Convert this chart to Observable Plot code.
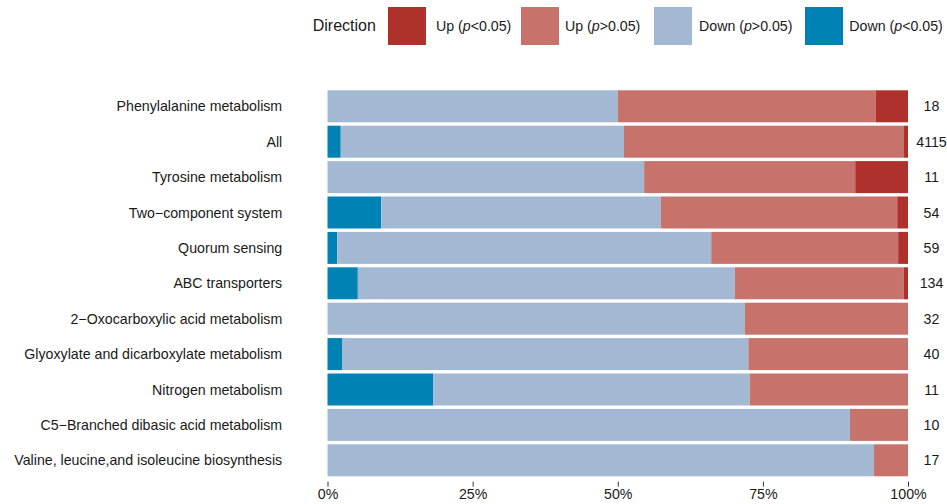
<!DOCTYPE html>
<html>
<head>
<meta charset="utf-8">
<script src="https://cdn.jsdelivr.net/npm/d3@7"></script>
<script src="https://cdn.jsdelivr.net/npm/@observablehq/plot@0.6"></script>
<style>
  body { margin: 0; background: #fff; font-family: "Liberation Sans", Arial, sans-serif; }
  #chart { position: relative; width: 947px; height: 504px; overflow: hidden; background: #fff; }
  #legend { position: absolute; left: 0; top: 0; width: 947px; height: 60px; color: #1a1a1a; }
  #legend .title { position: absolute; top: 25.5px; transform: translateY(-50%); font-size: 16px; white-space: nowrap; }
  #legend .key { position: absolute; top: 6.7px; width: 38px; height: 38px; }
  #legend .lab { position: absolute; top: 25.5px; transform: translateY(-50%); font-size: 14.2px; white-space: nowrap; }
  #chart svg { position: absolute; left: 0; top: 60px; }
</style>
</head>
<body>
<div id="chart"><div id="legend"></div></div>
<script>
// Pathways, top to bottom
const pathways = [
  "Phenylalanine metabolism",
  "All",
  "Tyrosine metabolism",
  "Two\u2212component system",
  "Quorum sensing",
  "ABC transporters",
  "2\u2212Oxocarboxylic acid metabolism",
  "Glyoxylate and dicarboxylate metabolism",
  "Nitrogen metabolism",
  "C5\u2212Branched dibasic acid metabolism",
  "Valine, leucine,and isoleucine biosynthesis"
];

// Gene counts per pathway and direction
const downSig    = [0,   94, 0,  5,  1,  7,  0,  1, 2, 0,  0];
const downNonSig = [9, 2008, 6, 26, 38, 87, 23, 28, 6, 9, 16];
const upNonSig   = [8, 1981, 4, 22, 19, 39,  9, 11, 3, 1,  1];
const upSig      = [1,   32, 1,  1,  1,  1,  0,  0, 0, 0,  0];

// Legend order and colours
const directions = ["Up (p<0.05)", "Up (p>0.05)", "Down (p>0.05)", "Down (p<0.05)"];
const directionColors = ["#ae312c", "#c8726c", "#a3b9d3", "#0082b4"];

const xTicks = [0, 0.25, 0.5, 0.75, 1];

// Long table, in stacking order from the left: Down sig, Down ns, Up ns, Up sig
const stackSeries = [
  [directions[3], downSig],
  [directions[2], downNonSig],
  [directions[1], upNonSig],
  [directions[0], upSig]
];
const rows = [];
pathways.forEach((p, i) => {
  for (const [dir, vals] of stackSeries) rows.push({pathway: p, direction: dir, count: vals[i]});
});
const totals = pathways.map((p, i) => ({
  pathway: p,
  n: downSig[i] + downNonSig[i] + upNonSig[i] + upSig[i]
}));

// Legend
const legend = document.getElementById("legend");
const title = document.createElement("div");
title.className = "title";
title.style.left = "312.7px";
title.textContent = "Direction";
legend.appendChild(title);

const keyLeft = [387.7, 521, 654.3, 805];
const labLeft = [436, 565, 699, 849.3];
directions.forEach((d, i) => {
  const key = document.createElement("div");
  key.className = "key";
  key.style.left = keyLeft[i] + "px";
  key.style.background = directionColors[i];
  legend.appendChild(key);
  const lab = document.createElement("div");
  lab.className = "lab";
  lab.style.left = labLeft[i] + "px";
  const [pre, post] = d.split("(p");
  lab.appendChild(document.createTextNode(pre + "("));
  const it = document.createElement("i");
  it.textContent = "p";
  lab.appendChild(it);
  lab.appendChild(document.createTextNode(post));
  legend.appendChild(lab);
});

const plot = Plot.plot({
  width: 947,
  height: 444,
  marginLeft: 327.5,
  marginRight: 39,
  marginTop: 0,
  marginBottom: 22.3,
  style: {fontFamily: "'Liberation Sans', Arial, sans-serif", fontSize: "14.2px", color: "#1a1a1a", background: "#fff", overflow: "visible"},
  x: {domain: [0, 1], range: [327.5, 908]},
  y: {domain: pathways, range: [30.3, 416.3], paddingInner: 0.096, paddingOuter: 0, round: false},
  color: {domain: directions, range: directionColors},
  marks: [
    Plot.barX(rows, Plot.stackX({x: "count", y: "pathway", fill: "direction", offset: "normalize"})),
    Plot.text(totals, {x: () => 1, y: "pathway", text: d => String(d.n), dx: 23, textAnchor: "middle", fontSize: 14.2, fill: "#1a1a1a"}),
    Plot.axisX({ticks: xTicks, tickFormat: d3.format(".0%"), tickSize: 5, tickPadding: 2, stroke: "#333", fill: "#1a1a1a", fontSize: 14.2, label: null}),
    Plot.axisY({tickSize: 0, tickPadding: 45.8, fill: "#1a1a1a", fontSize: 14.2, label: null})
  ]
});
document.getElementById("chart").appendChild(plot);
</script>
</body>
</html>
